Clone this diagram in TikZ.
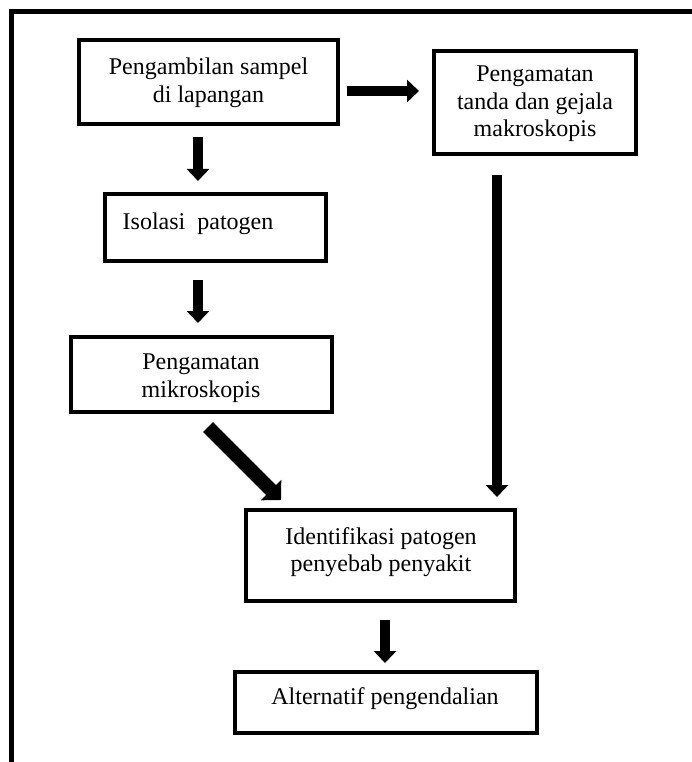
\documentclass[tikz,border=0pt]{standalone}
\usepackage{fontspec}
\setmainfont{Liberation Serif}
\usetikzlibrary{arrows.meta}
\begin{document}
\begin{tikzpicture}[x=1pt,y=-1pt,
  box/.style={draw, line width=4pt, inner sep=0pt},
  txt/.style={font=\fontsize{24}{27.5}\selectfont, align=center, inner sep=0pt},
  vertarrow/.style={line width=10pt, -{Triangle[width=22pt,length=12pt]}},
  diagarrow/.style={line width=14pt, -{Triangle[width=28pt,length=14pt]}},
  frameline/.style={line width=5pt, line join=miter}]
\useasboundingbox (0,0) rectangle (692,762);
\draw[frameline] (11.5,770) -- (11.5,11.5) -- (700,11.5);

\node[box, minimum width=259pt, minimum height=84pt] (b1) at (208.5,82) {};
\node[box, minimum width=202pt, minimum height=103pt] (b2) at (535,102.5) {};
\node[box, minimum width=221pt, minimum height=67pt] (b3) at (215.5,227.5) {};
\node[box, minimum width=261pt, minimum height=75pt] (b4) at (201.5,374.5) {};
\node[box, minimum width=269pt, minimum height=91pt] (b5) at (380.5,555.5) {};
\node[box, minimum width=302pt, minimum height=61pt] (b6) at (386,702.5) {};

\node[txt] (t1) at (208.5,83) {Pengambilan sampel\\di lapangan};
\node[txt] (t2) at (535,104) {Pengamatan\\tanda dan gejala\\makroskopis};
\node[txt] (t3) at (198,224) {Isolasi\ \ patogen};
\node[txt] (t4) at (201,378) {Pengamatan\\mikroskopis};
\node[txt] (t5) at (381,552) {Identifikasi patogen\\penyebab penyakit};
\node[txt] (t6) at (385,699) {Alternatif pengendalian};

\coordinate (h) at (0,91);
\coordinate (v) at (497,0);
\coordinate (d1) at (208,427);
\coordinate (d2) at (281,500);

\draw[vertarrow, shorten <=11pt, shorten >=11pt] (b1.south -| t3) -- (b3.north -| t3);
\draw[vertarrow, shorten <=17pt, shorten >=12pt] (b3.south -| t3) -- (b4.north -| t3);
\draw[vertarrow, shorten <=7pt, shorten >=13pt] (b1.east |- h) -- (b2.west |- h);
\draw[vertarrow, shorten <=19pt, shorten >=11pt] (b2.south -| v) -- (b5.north -| v);
\draw[diagarrow] (d1) -- (d2);
\draw[vertarrow, shorten <=17pt, shorten >=7pt] (b5.south -| t6) -- (b6.north -| t6);
\end{tikzpicture}
\end{document}
